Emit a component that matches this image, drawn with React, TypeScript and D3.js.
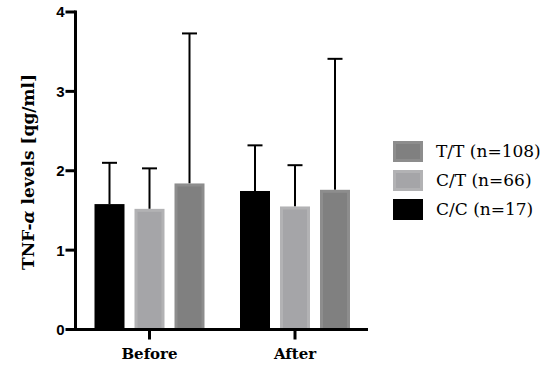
import React from "react";
import * as d3 from "d3";

const groups = ["Before", "After"];
const series = ["C/C (n=17)", "C/T (n=66)", "T/T (n=108)"];
const means = [
  [1.58, 1.52, 1.84],
  [1.745, 1.55, 1.76],
];
const upper = [
  [2.1, 2.03, 3.73],
  [2.32, 2.07, 3.41],
];
const yTicks = [0, 1, 2, 3, 4];
const fills = ["#000000", "#a5a5a8", "#808080"];
const borders = ["#000000", "#b2b2b4", "#8d8d8d"];
const legendOrder = [2, 1, 0];

export default function App() {
  const W = 550, H = 372;
  const x0 = 75.5, x1 = 368;
  const y = d3.scaleLinear().domain([0, 4]).range([329.5, 12]);
  const gx = d3.scalePoint<string>().domain(groups).range([149.5, 295]);
  const bw = 30, step = 40;
  return (
    <svg width={W} height={H} style={{ position: "absolute", left: 0, top: 0, background: "#fff" }}>
      {groups.map((g, gi) =>
        series.map((s, si) => {
          const cx = (gx(g) as number) + (si - 1) * step;
          const top = y(means[gi][si]);
          const base = y(0);
          return (
            <g key={g + s}>
              <line x1={cx} x2={cx} y1={top} y2={y(upper[gi][si])} stroke="#000" strokeWidth={2} />
              <line x1={cx - 7.5} x2={cx + 7.5} y1={y(upper[gi][si])} y2={y(upper[gi][si])} stroke="#000" strokeWidth={2} />
              <rect x={cx - bw / 2} y={top} width={bw} height={base - top} fill={borders[si]} />
              <rect x={cx - bw / 2 + 3} y={top + 3} width={bw - 6} height={base - top - 3} fill={fills[si]} />
            </g>
          );
        })
      )}
      {/* axes */}
      <line x1={x0} x2={x0} y1={y(4) - 1.5} y2={y(0) + 1.5} stroke="#000" strokeWidth={3} />
      <line x1={x0 - 1.5} x2={x1} y1={y(0)} y2={y(0)} stroke="#000" strokeWidth={3} />
      {yTicks.map((t) => (
        <g key={t}>
          <line x1={x0 - 10} x2={x0} y1={y(t)} y2={y(t)} stroke="#000" strokeWidth={3} />
          <text x={x0 - 11} y={y(t)} dy="0.36em" textAnchor="end" fontFamily="Liberation Sans, Arial, sans-serif" fontWeight="bold" fontSize={15}>{t}</text>
        </g>
      ))}
      {groups.map((g) => (
        <g key={g}>
          <line x1={gx(g)} x2={gx(g)} y1={y(0)} y2={y(0) + 10} stroke="#000" strokeWidth={3} />
          <text x={gx(g)} y={359} textAnchor="middle" fontFamily="DejaVu Serif, serif" fontWeight="bold" fontSize={15}>{g}</text>
        </g>
      ))}
      <text transform="translate(34,172) rotate(-90)" textAnchor="middle" fontFamily="DejaVu Serif, serif" fontWeight="bold" fontSize={17}>
        TNF-<tspan fontStyle="italic">α</tspan> levels [qg/ml]
      </text>
      {legendOrder.map((si, i) => (
        <g key={si} transform={`translate(393,${141 + i * 29})`}>
          <rect x={0} y={0} width={30} height={21} fill={borders[si]} />
          <rect x={3} y={3} width={24} height={15} fill={fills[si]} />
          <text x={43} y={16} fontFamily="DejaVu Serif, serif" fontSize={17}>{series[si]}</text>
        </g>
      ))}
    </svg>
  );
}
